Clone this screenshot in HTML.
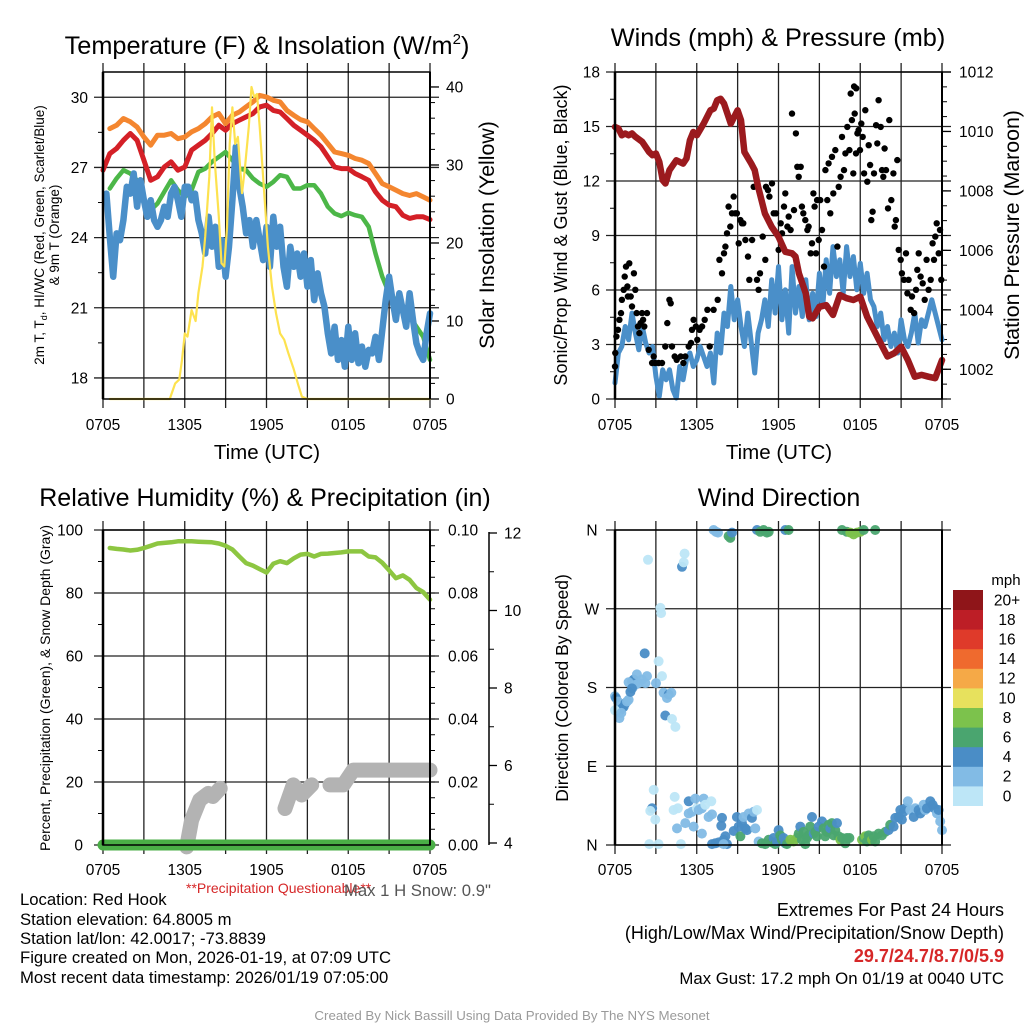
<!DOCTYPE html>
<html><head><meta charset="utf-8">
<style>
html,body{margin:0;padding:0;background:#fff;}
svg{display:block;font-family:"Liberation Sans",Arial,sans-serif;}
</style></head>
<body>
<svg id="chart" width="1024" height="1024" viewBox="0 0 1024 1024" xmlns="http://www.w3.org/2000/svg">
<rect x="0" y="0" width="1024" height="1024" fill="#fff"/>
<g id="layer"></g>
<!-- titles -->
<text x="267" y="54" font-size="25.3" text-anchor="middle">Temperature (F) &amp; Insolation (W/m<tspan font-size="15" dy="-10">2</tspan><tspan dy="10">)</tspan></text>
<text x="778" y="46" font-size="25.3" text-anchor="middle">Winds (mph) &amp; Pressure (mb)</text>
<text x="265" y="506" font-size="25" text-anchor="middle">Relative Humidity (%) &amp; Precipitation (in)</text>
<text x="779" y="506" font-size="25" text-anchor="middle">Wind Direction</text>
<!-- axis titles -->
<text x="267" y="459" font-size="20.5" text-anchor="middle">Time (UTC)</text>
<text x="779" y="459" font-size="20.5" text-anchor="middle">Time (UTC)</text>
<text transform="translate(44,235) rotate(-90)" font-size="13.5" text-anchor="middle">2m T, T<tspan font-size="9" dy="3">d</tspan><tspan dy="-3">, HI/WC (Red, Green, Scarlet/Blue)</tspan></text>
<text transform="translate(59,235) rotate(-90)" font-size="13.5" text-anchor="middle">&amp; 9m T (Orange)</text>
<text transform="translate(494,235) rotate(-90)" font-size="21.3" text-anchor="middle">Solar Insolation (Yellow)</text>
<text transform="translate(567,235) rotate(-90)" font-size="18" text-anchor="middle">Sonic/Prop Wind &amp; Gust (Blue, Black)</text>
<text transform="translate(1019,235) rotate(-90)" font-size="21.3" text-anchor="middle">Station Pressure (Maroon)</text>
<text transform="translate(50,688) rotate(-90)" font-size="14" text-anchor="middle">Percent, Precipitation (Green), &amp; Snow Depth (Gray)</text>
<text transform="translate(568,688) rotate(-90)" font-size="17.5" text-anchor="middle">Direction (Colored By Speed)</text>
<!-- legend title -->
<text x="1006" y="585" font-size="15" text-anchor="middle">mph</text>
<!-- footer -->
<text x="186" y="893" font-size="14" fill="#d62728">**Precipitation Questionable**</text>
<text x="344" y="896" font-size="16.7" fill="#555">Max 1 H Snow: 0.9"</text>
<g font-size="16.7" fill="#000">
<text x="20" y="905">Location: Red Hook</text>
<text x="20" y="925">Station elevation: 64.8005 m</text>
<text x="20" y="944">Station lat/lon: 42.0017; -73.8839</text>
<text x="20" y="963">Figure created on Mon, 2026-01-19, at 07:09 UTC</text>
<text x="20" y="983">Most recent data timestamp: 2026/01/19 07:05:00</text>
</g>
<g text-anchor="end">
<text x="1004" y="916" font-size="18">Extremes For Past 24 Hours</text>
<text x="1004" y="939" font-size="18">(High/Low/Max Wind/Precipitation/Snow Depth)</text>
<text x="1004" y="962" font-size="18" fill="#d62728" font-weight="bold">29.7/24.7/8.7/0/5.9</text>
<text x="1004" y="984" font-size="16.8">Max Gust: 17.2 mph On 01/19 at 0040 UTC</text>
</g>
<text x="512" y="1020" font-size="13.3" fill="#9a9a9a" text-anchor="middle">Created By Nick Bassill Using Data Provided By The NYS Mesonet</text>
</svg>
<script>
// ===== data =====
const timeLabels = ["0705","1305","1905","0105","0705"];
const halfHours = [0,0.5,1,1.5,2,2.5,3,3.5,4,4.5,5,5.5,6,6.5,7,7.5,8,8.5,9,9.5,10,10.5,11,11.5,12,12.5,13,13.5,14,14.5,15,15.5,16,16.5,17,17.5,18,18.5,19,19.5,20,20.5,21,21.5,22,22.5,23,23.5,24];
const temp9m = [null,28.66,28.8,29.09,28.95,28.73,28.3,27.95,28.38,28.38,28.45,28.23,28.3,28.52,28.66,28.87,29.16,29.3,28.87,29.23,29.37,29.59,29.8,30.08,30.01,29.87,29.8,29.44,29.23,29.04,28.95,28.66,28.38,28.02,27.66,27.59,27.52,27.38,27.31,27.17,26.74,26.31,26.17,26.03,25.88,25.8,25.88,25.74,25.6];
const temp2m = [26.88,27.59,27.81,28.16,28.45,28.16,27.31,26.45,26.6,27.02,27.24,26.88,27.02,27.74,27.95,28.16,28.45,28.8,28.59,28.87,29.02,29.16,29.3,29.59,29.66,29.44,29.37,29.09,28.8,28.59,28.38,28.16,27.88,27.45,27.02,26.95,26.95,26.74,26.6,26.45,25.96,25.6,25.39,25.32,24.96,24.82,24.89,24.89,24.77];
const dewpoint = [null,26.1,26.53,26.88,26.74,26.45,25.6,25.17,25.46,25.96,26.45,26.03,25.74,26.03,26.81,26.95,27.24,27.45,27.66,27.31,26.95,26.88,26.53,26.31,26.17,26.38,26.67,26.6,26.1,26.1,26.24,26.24,25.88,25.32,25.03,24.92,25.06,24.96,24.89,24.46,23.32,22.33,21.62,21.33,20.97,20.62,20.19,19.76,18.77];
const quarterHours = [0,0.25,0.5,0.75,1,1.25,1.5,1.75,2,2.25,2.5,2.75,3,3.25,3.5,3.75,4,4.25,4.5,4.75,5,5.25,5.5,5.75,6,6.25,6.5,6.75,7,7.25,7.5,7.75,8,8.25,8.5,8.75,9,9.25,9.5,9.75,10,10.25,10.5,10.75,11,11.25,11.5,11.75,12,12.25,12.5,12.75,13,13.25,13.5,13.75,14,14.25,14.5,14.75,15,15.25,15.5,15.75,16,16.25,16.5,16.75,17,17.25,17.5,17.75,18,18.25,18.5,18.75,19,19.25,19.5,19.75,20,20.25,20.5,20.75,21,21.25,21.5,21.75,22,22.25,22.5,22.75,23,23.25,23.5,23.75,24];
const windChill = [null,25.88,24.03,22.33,24.18,23.89,24.75,26.17,25.88,26.74,25.32,26.45,25.6,24.89,25.6,24.75,24.46,24.75,25.32,24.89,25.88,26.17,25.6,24.89,26.17,26.17,25.6,25.88,24.75,24.18,23.32,24.89,23.61,24.46,22.75,23.89,22.33,23.61,25.6,27.88,26.17,25.32,24.18,24.75,23.61,24.75,23.89,23.04,24.46,22.75,24.89,23.61,24.46,22.75,21.9,23.61,22.75,23.32,22.33,23.32,21.9,23.04,21.33,22.47,21.62,21.05,19.91,19.05,20.19,18.77,19.62,18.48,20.19,18.77,19.91,18.63,19.34,18.48,19.2,19.05,19.76,18.77,20.05,21.33,22.33,21.33,20.48,21.62,20.9,20.19,21.62,20.48,19.48,19.05,18.77,19.91,20.76];
const insolTimes = [0.5,4.9,5.0,5.3,5.6,5.8,6.0,6.2,6.5,6.8,7.0,7.3,7.5,7.8,8.0,8.2,8.5,8.7,8.9,9.1,9.3,9.5,9.7,9.9,10.2,10.4,10.7,10.9,11.1,11.3,11.5,11.8,12.1,12.4,12.7,13.0,13.3,13.6,14.0,14.3,14.6,15.0,24];
const insolValues = [0,0,0.5,2,2.5,5,8.4,8,11.4,10,13.6,17,20.8,28.5,37.4,30.6,23.4,17.4,17,22,32.7,37.4,32.7,33.6,26.4,29.3,34.9,40,38.7,39.1,34.9,27.2,19.5,14.4,11,8.4,7.6,5.9,3.8,2,0.3,0,0];

const pressTimes = [0,0.25,0.5,0.75,1,1.25,1.5,2,2.5,2.75,3,3.25,3.5,3.7,4,4.5,5,5.25,5.5,5.75,6,6.5,7,7.25,7.5,7.75,8,8.5,8.75,9,9.25,9.5,10,10.25,10.5,11,11.5,12,12.5,13,13.25,13.5,14,14.25,14.5,15,15.5,16,16.5,17,17.5,18,18.5,19,19.5,20,20.5,21,21.5,22,22.5,23,23.5,24];
const pressValues = [1010.15,1010.1,1009.87,1009.93,1009.87,1009.93,1009.82,1009.65,1009.31,1009.2,1009.26,1008.98,1008.36,1008.25,1008.7,1009.03,1008.92,1009.09,1009.7,1009.98,1009.87,1010.26,1010.71,1010.77,1011.05,1011.1,1010.94,1010.26,1010.49,1010.71,1010.38,1009.31,1008.92,1008.7,1008.14,1007.24,1006.79,1006.46,1005.95,1005.9,1005.79,1005.23,1004.55,1003.77,1003.71,1004.1,1004.16,1003.83,1004.5,1004.39,1004.33,1004.44,1003.77,1003.32,1002.87,1002.43,1002.54,1002.76,1002.31,1001.75,1001.81,1001.75,1001.7,1002.31];
const windSpeed = [0.88,2.53,2.89,3.99,3.26,4.73,3.63,2.71,3.99,3.08,2.53,2.89,1.25,0.15,1.61,1.06,1.61,0.51,0.05,1.79,1.06,2.16,2.53,1.79,2.16,2.89,2.34,1.79,2.53,0.88,3.63,2.53,4.73,3.99,6.19,4.36,5.46,3.99,2.89,4.73,3.08,1.43,3.63,4.36,5.46,3.99,6.56,4.73,7.29,4.36,6.01,3.63,7.29,4.73,6.19,4.54,6.56,4.36,5.82,4.54,6.92,5.09,7.66,5.82,8.39,6.74,7.66,5.82,8.39,6.74,7.84,6.01,7.47,5.82,6.92,5.46,5.09,3.99,4.73,3.26,3.99,2.89,3.63,2.53,4.36,3.26,2.89,3.63,4.73,3.08,4.36,3.99,4.73,5.46,4.73,3.99,3.26];
const gustTimes = [0,0.02,0.1,0.22,0.32,0.44,0.51,0.64,0.71,0.81,0.91,0.95,1.05,1.15,1.25,1.39,1.49,1.59,1.69,1.79,1.88,1.98,2.06,2.15,2.35,2.47,2.72,2.84,2.96,3.2,3.45,3.69,3.84,3.99,4.09,4.18,4.38,4.53,4.82,5.02,5.16,5.41,5.58,5.65,5.77,5.94,6.04,6.21,6.39,6.58,6.78,6.95,7.24,7.54,7.66,7.85,8.0,8.1,8.22,8.34,8.46,8.59,8.71,8.83,8.95,9.08,9.2,9.32,9.42,9.57,9.76,9.86,10.06,10.18,10.42,10.54,10.64,10.84,11.03,11.08,11.23,11.33,11.52,11.65,11.82,12.01,12.16,12.26,12.4,12.5,12.65,12.75,12.89,12.99,13.14,13.28,13.38,13.48,13.63,13.72,13.82,13.97,14.12,14.21,14.36,14.46,14.56,14.65,14.75,14.83,14.95,15.07,15.19,15.34,15.44,15.58,15.68,15.8,15.93,16.02,16.17,16.32,16.42,16.56,16.66,16.81,16.91,17.05,17.2,17.3,17.39,17.49,17.55,17.7,17.59,17.69,17.79,17.88,17.98,18.08,18.18,18.28,18.37,18.52,18.62,18.72,18.81,18.91,19.01,19.16,19.25,19.35,19.5,19.6,19.69,19.79,19.89,20.04,20.13,20.28,20.43,20.53,20.62,20.72,20.82,20.97,21.06,21.21,21.36,21.46,21.55,21.7,21.8,21.95,22.09,22.19,22.29,22.43,22.58,22.73,22.87,23.02,23.17,23.31,23.41,23.51,23.61,23.76,23.85,23.95];
const gustValues = [1.79,2.53,3.44,3.81,4.36,4.73,5.46,6.01,6.74,7.29,6.19,5.64,7.47,5.64,5.09,6.92,6.01,4.73,3.99,3.63,4.18,4.73,4.36,3.99,4.73,2.71,1.98,2.34,1.98,1.98,1.98,2.89,4.18,5.46,5.27,2.89,2.34,2.16,2.34,1.98,2.34,2.89,3.08,3.81,4.36,3.99,3.26,3.81,3.99,4.36,4.91,2.89,4.91,5.46,7.66,6.92,8.02,8.39,9.12,10.59,9.49,10.22,11.14,10.22,10.22,8.57,9.85,9.67,9.67,8.75,7.84,6.56,8.75,11.68,6.56,6.01,6.92,8.94,7.66,11.68,11.5,11.14,11.87,10.22,10.22,8.21,9.67,9.12,10.59,11.32,9.49,10.04,9.3,15.71,10.4,14.62,12.78,12.23,12.78,10.59,10.22,9.85,9.3,9.49,8.02,8.57,11.32,10.59,8.02,10.95,8.75,10.95,9.3,7.29,12.6,10.95,12.97,10.22,13.33,11.32,13.7,8.39,11.68,12.23,14.43,12.6,13.52,14.98,13.7,16.81,15.35,12.42,17.2,17.1,15.71,13.52,14.62,14.8,13.7,15.16,14.43,12.42,15.9,11.96,13.97,12.88,9.85,10.31,12.42,15.07,14.07,16.45,14.98,12.6,12.23,13.79,12.6,10.49,15.35,10.95,12.42,9.49,9.85,13.15,8.21,7.66,6.92,6.56,8.02,5.82,6.56,4.91,5.64,4.73,6.01,7.11,8.02,6.74,6.37,5.46,7.66,6.01,6.56,8.57,7.66,8.94,9.67,8.02,9.3,6.56];

const rhValues = [null,94.3,94,93.8,93.5,93.7,94.3,95,95.7,95.9,96.1,96.4,96.4,96.4,96.3,96.2,96.1,95.7,95,93.8,91.6,89.5,88.7,87.6,86.5,89.3,90.1,89.5,91,92.2,92.4,91.6,92.4,92.5,92.7,92.9,93.2,93.2,93.2,91.6,91.3,89.6,87.2,84.7,85.6,84.2,81.6,80.3,77.9];
const precipTimes = [0,24];
const precipValues = [0,0];
const snowTimes = [6.14,6.5,7.1,7.73,8.05,8.6,null,13.36,13.97,14.58,15.32,null,16.66,17.64,18.37,24];
const snowDepth = [3.9,4.59,5.11,5.28,5.2,5.41,null,4.89,5.5,5.24,5.5,null,5.5,5.5,5.88,5.88];

const dirTimes = [0,0.07,0.22,0.39,0.51,0.64,0.76,0.88,1.0,0,0.32,0.46,1.13,1.25,1.37,1.49,1.61,1.74,1.98,2.23,2.35,2.18,1.0,1.25,2.42,3.33,3.38,3.2,3.45,3.01,3.57,3.94,3.82,4.13,3.69,4.18,4.43,4.92,5.04,5.11,
 7.24,7.41,7.56,8.34,8.46,8.59,10.42,10.66,10.91,11.15,11.28,12.5,12.74,16.66,17.02,17.27,17.51,17.76,18.0,18.25,19.1,
 2.84,2.72,2.59,2.96,2.52,3.2,4.38,4.3,4.62,4.55,4.84,5.16,5.41,5.41,5.65,5.77,5.89,6.02,6.14,6.38,6.51,6.63,6.87,7.07,7.12,6.38,7.12,7.36,7.61,7.85,7.8,7.97,8.1,8.22,7.97,8.71,8.95,9.07,9.2,9.32,9.56,9.69,9.44,9.81,10.05,10.18,10.42,10.3,10.54,10.79,11.03,11.28,11.52,11.64,11.76,11.89,12.01,12.13,12.25,12.38,12.5,12.62,12.87,13.11,13.36,13.48,13.6,13.72,13.84,13.97,14.09,14.21,14.33,14.46,14.58,14.7,14.82,14.95,15.19,15.31,15.43,15.56,15.68,15.8,15.92,16.05,16.17,16.29,16.41,16.54,16.66,16.9,17.02,17.2,18.13,18.25,18.37,18.49,18.62,18.74,18.86,18.98,19.1,19.35,19.59,19.84,20.08,20.2,20.45,20.57,20.82,20.94,21.06,21.18,21.3,21.5,21.67,21.92,22.04,22.28,22.41,22.65,22.77,22.89,23.14,23.31,23.46,23.63,23.75,23.87,24.0];
const dirDegrees = [170,168,164,154,156,158,162,164,166,154,145,151,175,187,189,183,195,185,189,185,193,219,186,179,326,271,265,210,193,185,174,172,168,174,148,144,135,318,323,333,
 360,358,357,353,351,357,360,358,360,357,358,360,360,360,358,357,355,357,358,360,360,
 63,42,39,29,1,1,55,40,42,19,1,25,50,36,38,21,53,42,40,42,53,46,32,50,35,13,1,2,3,31,22,6,10,1,1,16,32,21,10,25,19,17,32,36,31,38,40,19,4,2,1,6,3,8,1,4,17,11,6,8,2,1,6,4,8,13,21,6,15,1,8,11,21,32,13,15,10,21,27,19,10,15,23,19,25,11,17,25,10,6,8,2,8,8,6,8,10,4,11,6,6,10,4,13,11,15,17,23,21,31,32,40,29,38,42,50,40,32,42,40,36,46,40,42,50,46,42,36,40,27,17];
const dirSpeeds = [3,5,3,5,5,5,5,3,3,1,3,3,5,5,5,3,3,3,3,3,3,5,3,5,1,1,1,1,1,3,3,5,3,3,5,1,1,5,1,1,
 3,3,3,7,7,5,5,7,7,7,7,5,7,7,7,9,9,9,9,7,7,
 1,5,1,1,1,1,1,1,1,3,1,3,5,3,3,3,3,1,3,3,3,1,3,1,3,3,5,5,5,5,5,5,5,5,3,5,5,5,7,5,5,5,3,3,5,3,1,3,3,7,7,7,7,5,7,5,5,7,7,5,5,7,9,9,9,7,5,7,7,7,7,7,7,5,5,7,7,5,5,7,7,7,7,5,7,7,7,5,7,9,7,7,7,7,9,7,9,7,7,7,9,7,7,7,7,7,5,7,5,5,5,5,5,5,5,3,3,5,3,5,5,3,3,5,5,5,5,3,5,3];

const speedBinLabels = ["0","2","4","6","8","10","12","14","16","18","20+"];
const speedBinColors = ["#bde6f7","#82bbe5","#4a8dc6","#4aa56f","#7cc24c","#e7e15d","#f5a947","#ef6a2e","#df3a2a","#bd1e26","#8f1519"];

const tempTicks = [18,21,24,27,30];
const insolTicks = [0,10,20,30,40];
const windTicks = [0,3,6,9,12,15,18];
const pressTicks = [1002,1004,1006,1008,1010,1012];
const rhTicks = [0,20,40,60,80,100];
const precipTicks = ["0.00","0.02","0.04","0.06","0.08","0.10"];
const snowTicks = [4,6,8,10,12];
const dirTicks = ["N","E","S","W","N"];

// ===== drawing =====
const NS = "http://www.w3.org/2000/svg";
const root = document.getElementById("layer");
function mk(tag, parent){ const e = document.createElementNS(NS, tag); (parent||root).appendChild(e); return e; }
function line(x1,y1,x2,y2,stroke,w,parent){ const e=mk("line",parent); e.setAttribute("x1",x1);e.setAttribute("y1",y1);e.setAttribute("x2",x2);e.setAttribute("y2",y2);e.setAttribute("stroke",stroke);e.setAttribute("stroke-width",w); return e; }
function txt(x,y,s,size,anchor,parent){ const e=mk("text",parent); e.setAttribute("x",x);e.setAttribute("y",y);e.setAttribute("font-size",size);e.setAttribute("text-anchor",anchor);e.textContent=s; return e; }

const PX0 = 103, PX1 = 430;
function xScale(off){ return h => off + PX0 + h/24*(PX1-PX0); }
function yScale(y0,y1,v0,v1){ return v => y1 - (v - v0)/(v1 - v0)*(y1 - y0); }
function pathD(xs, ys, fx, fy){
  let d = "", pen = false;
  for (let i=0;i<xs.length;i++){
    if (xs[i]===null || ys[i]===null || ys[i]===undefined){ pen=false; continue; }
    d += (pen?"L":"M") + fx(xs[i]).toFixed(1) + "," + fy(ys[i]).toFixed(1);
    pen = true;
  }
  return d;
}
function series(g, xs, ys, fx, fy, color, w, name){
  const p = mk("path", g);
  p.setAttribute("d", pathD(xs, ys, fx, fy));
  p.setAttribute("fill","none"); p.setAttribute("stroke",color); p.setAttribute("stroke-width",w);
  p.setAttribute("stroke-linejoin","round"); p.setAttribute("stroke-linecap","round");
  
  
  return p;
}

function panelFrame(g, off, y0, y1, hGridYs){
  const fx = xScale(off);
  for (let h=0; h<=24; h+=3){
    const x = fx(h);
    const l = line(x, y0-9, x, y1+9, "#222", 1.3, g);
    
    
  }
  hGridYs.forEach(y=>{
    const l = line(off+PX0-9, y, off+PX1+9, y, "#222", 1.3, g);
    
    
  });
}
function panelBorder(g, off, y0, y1){
  const r = mk("rect", g);
  r.setAttribute("x", off+PX0); r.setAttribute("y", y0); r.setAttribute("width", PX1-PX0); r.setAttribute("height", y1-y0);
  r.setAttribute("fill","none"); r.setAttribute("stroke","#000"); r.setAttribute("stroke-width","1.5");
  
  
  line(off+PX0, y0, off+PX0, y1, "#000", 2.5, g);
  line(off+PX1, y0, off+PX1, y1, "#000", 2, g);
}
function xLabels(g, off, y){
  const fx = xScale(off);
  timeLabels.forEach((s,i)=>{
    const t = txt(fx(i*6), y, s, 15.5, "middle", g);
    
    
  });
}
function minorTicks(g, x, fy, v0, v1, step, dir, len){
  for (let v=v0; v<=v1+1e-9; v+=step){ line(x, fy(v), x+dir*len, fy(v), "#000", 1, g); }
}

// ---------- Panel 1 ----------
(function(){
  const g = mk("g");  
  const y0=72, y1=399;
  const fx = xScale(0);
  const fT = yScale(y0,y1,17.1,31.08);
  const fI = yScale(y0,y1,0,41.92);
  panelFrame(g, 0, y0, y1, tempTicks.map(fT));
  minorTicks(g, PX0, fT, 19.5, 31, 3, -1, 5);
  minorTicks(g, PX1, fI, 0, 41, 2, 1, 5);
  insolTicks.forEach(v=>line(PX1, fI(v), PX1+9, fI(v), "#000", 1.3, g));
  series(g, halfHours, temp9m, fx, fT, "#f4862f", 5, "temp-9m-line");
  series(g, halfHours, temp2m, fx, fT, "#d42027", 5, "temp-2m-line");
  series(g, halfHours, dewpoint, fx, fT, "#4cb748", 4.5, "dewpoint-line");
  series(g, quarterHours, windChill, fx, fT, "#4a8fc9", 6.5, "windchill-line");
  series(g, insolTimes, insolValues, fx, fI, "#fde24f", 2.2, "insolation-line");
  panelBorder(g, 0, y0, y1);
  tempTicks.forEach(v=>{ const t=txt(88, fT(v)+5.5, String(v), 15.5, "end", g);   });
  insolTicks.forEach(v=>{ const t=txt(446, fI(v)+5.5, String(v), 15.5, "start", g);   });
  xLabels(g, 0, 430);
})();

// ---------- Panel 2 ----------
(function(){
  const g = mk("g");  
  const off=512, y0=72, y1=399;
  const fx = xScale(off);
  const fW = yScale(y0,y1,0,18);
  const fP = yScale(y0,y1,1001,1012);
  panelFrame(g, off, y0, y1, windTicks.map(fW));
  minorTicks(g, off+PX0, fW, 1.5, 16.5, 3, -1, 5);
  minorTicks(g, off+PX1, fP, 1001, 1012, 0.5, 1, 5);
  pressTicks.forEach(v=>line(off+PX1, fP(v), off+PX1+9, fP(v), "#000", 1.3, g));
  series(g, quarterHours, windSpeed, fx, fW, "#4a8fc9", 5, "wind-speed-line");
  gustTimes.forEach((t,i)=>{
    const c = mk("circle", g);
    c.setAttribute("cx", fx(t).toFixed(1)); c.setAttribute("cy", fW(gustValues[i]).toFixed(1)); c.setAttribute("r","3.2"); c.setAttribute("fill","#000");
    
    
  });
  series(g, pressTimes, pressValues, fx, fP, "#9b1a1e", 6.5, "pressure-line");
  panelBorder(g, off, y0, y1);
  windTicks.forEach(v=>{ const t=txt(off+88, fW(v)+5.5, String(v), 15.5, "end", g);   });
  pressTicks.forEach(v=>{ const t=txt(off+447, fP(v)+5.5, String(v), 15.5, "start", g);   });
  xLabels(g, off, 430);
})();

// ---------- Panel 3 ----------
(function(){
  const g = mk("g");  
  const y0=530, y1=845;
  const fx = xScale(0);
  const fR = yScale(y0,y1,0,100);
  const fS2 = v => 843 - (v-4)*38.75;
  panelFrame(g, 0, y0, y1, rhTicks.map(fR));
  minorTicks(g, PX0, fR, 10, 90, 20, -1, 5);
  minorTicks(g, PX1, fR, 0, 100, 5, 1, 5);
  line(489, 532, 489, 845, "#000", 1.5, g);
  snowTicks.forEach(v=>line(489, fS2(v), 497, fS2(v), "#000", 1.3, g));
  for (let v=5; v<12; v+=2) line(489, fS2(v), 494, fS2(v), "#000", 1, g);
  series(g, snowTimes, snowDepth, fx, fS2, "#b3b3b3", 15, "snow-depth-line");
  series(g, precipTimes, precipValues, fx, v=>fR(v*1000), "#4aae46", 11, "precip-line");
  series(g, halfHours, rhValues, fx, fR, "#8dc641", 4.5, "humidity-line");
  panelBorder(g, 0, y0, y1);
  rhTicks.forEach(v=>{ const t=txt(83, fR(v)+5.5, String(v), 15.5, "end", g);   });
  precipTicks.forEach((s,i)=>{ const t=txt(448, fR(i*20)+5.5, s, 15.5, "start", g);   });
  snowTicks.forEach(v=>{ const t=txt(504, fS2(v)+5.5, String(v), 15.5, "start", g);   });
  xLabels(g, 0, 875);
})();

// ---------- Panel 4 ----------
(function(){
  const g = mk("g");  
  const off=512, y0=530, y1=845;
  const fx = xScale(off);
  const fD = yScale(y0,y1,0,360);
  panelFrame(g, off, y0, y1, [0,90,180,270,360].map(fD));
  dirTimes.forEach((t,i)=>{
    const sp = (dirSpeeds[i]===undefined) ? 3 : dirSpeeds[i];
    const bin = Math.min(10, Math.floor(sp/2));
    const c = mk("circle", g);
    c.setAttribute("cx", fx(t).toFixed(1)); c.setAttribute("cy", fD(dirDegrees[i]).toFixed(1)); c.setAttribute("r","5");
    c.setAttribute("fill", speedBinColors[bin]); c.setAttribute("fill-opacity","0.95");
    
    
  });
  panelBorder(g, off, y0, y1);
  dirTicks.forEach((s,i)=>{ const t=txt(off+80, fD(i*90)+5.5, s, 15.5, "middle", g);   });
  xLabels(g, off, 875);
  const cb = mk("g", g);  
  const bh = 19.6, top = 590;
  speedBinLabels.forEach((s,i)=>{
    const k = speedBinLabels.length-1-i;
    const r = mk("rect", cb);
    r.setAttribute("x", 953); r.setAttribute("y", (top+k*bh).toFixed(1)); r.setAttribute("width", 30); r.setAttribute("height", bh+0.4);
    r.setAttribute("fill", speedBinColors[i]);
    
    
    const t = txt(1007, top+k*bh+bh/2+5.5, s, 15.5, "middle", cb);
    
    
  });
})();
</script>
</body></html>
